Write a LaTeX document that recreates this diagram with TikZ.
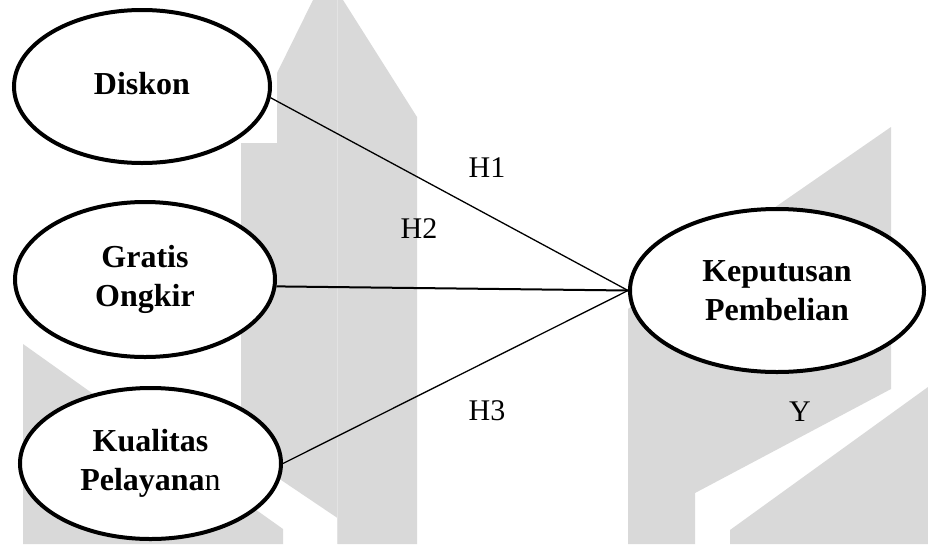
\documentclass[tikz,border=0pt]{standalone}
\usepackage{fontspec}
\setmainfont{Liberation Serif}
\usetikzlibrary{shapes.geometric}
\begin{document}
\begin{tikzpicture}[x=1pt,y=-1pt,
  wm/.style={fill=black!15,draw=none},
  var/.style={ellipse,draw,line width=4pt,fill=white,inner sep=0pt,align=center,
    font=\fontsize{32}{39}\selectfont\bfseries},
  lab/.style={anchor=base,inner sep=0pt,font=\fontsize{30}{36}\selectfont},
  link/.style={line width=1.3pt}]
\fill[white] (0,0) rectangle (928,544);
\useasboundingbox (0,0) rectangle (928,544);
% watermark
\fill[wm] (241,453) -- (241,143) -- (277,143) -- (277,73) -- (313,0) -- (337.5,0) -- (337.5,518) -- cycle;
\fill[wm] (337.5,0) -- (343,0) -- (417,117) -- (417,544) -- (337.5,544) -- cycle;
\fill[black!11] (337,0) rectangle (338,544);
\fill[wm] (23,344) -- (283,529) -- (283,544) -- (23,544) -- cycle;
\fill[wm] (628,309) -- (891,127) -- (891,389) -- (695,493) -- (695,544) -- (628,544) -- cycle;
\fill[wm] (730,530) -- (928,387) -- (928,544) -- (730,544) -- cycle;
% variables
\node[var,minimum width=256pt,minimum height=153pt] (diskon) at (142,86.5) {\raisebox{7pt}{Diskon}};
\node[var,minimum width=260pt,minimum height=155pt] (gratis) at (145,279.5) {Gratis\\Ongkir};
\node[var,minimum width=261pt,minimum height=151pt] (kual) at (150.5,463.5) {Kualitas\\Pelayana\mdseries n};
\node[var,minimum width=294pt,minimum height=163pt] (kep) at (777,290.5) {Keputusan\\Pembelian};
% links
\draw[link] (diskon.-5) -- (kep.west);
\draw[link,line width=2pt] (gratis.-3) -- (kep.west);
\draw[link] (kual.east) -- (kep.west);
% labels
\node[lab] (h1) at (487,177) {H1};
\node[lab] (h2) at (419,238) {H2};
\node[lab] (h3) at (487,420) {H3};
\node[lab] (y) at (800,421) {Y};
\end{tikzpicture}
\end{document}
